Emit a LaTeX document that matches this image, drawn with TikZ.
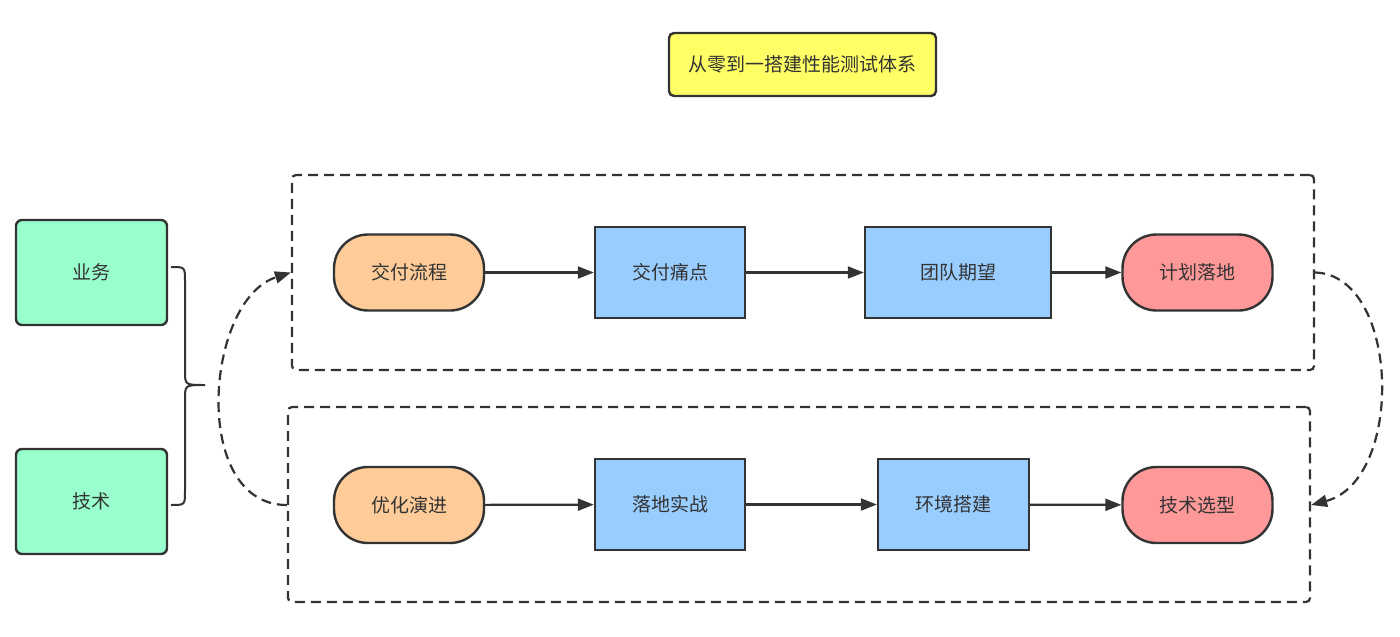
\documentclass[tikz,border=0pt]{standalone}
\usepackage{fontspec}
\setmainfont{Noto Sans CJK SC}
\usetikzlibrary{arrows.meta}
\definecolor{edge}{HTML}{333333}
\definecolor{txt}{HTML}{333333}
\definecolor{cgreen}{HTML}{99FFCC}
\definecolor{cyellow}{HTML}{FFFF66}
\definecolor{corange}{HTML}{FFCC99}
\definecolor{cblue}{HTML}{99CCFF}
\definecolor{cred}{HTML}{FF9999}
\tikzset{
  base/.style={draw=edge, line width=2.4pt, inner sep=0pt, text=txt, font=\fontsize{19}{22}\selectfont},
  pill/.style={base, rounded corners=34pt, minimum width=150pt, minimum height=76pt},
  rectbox/.style={base, minimum height=91pt},
  sidebox/.style={base, fill=cgreen, rounded corners=6pt, minimum width=151pt, minimum height=105pt},
  group/.style={draw=edge, line width=2.2pt, dash pattern=on 10pt off 6pt, rounded corners=4pt, inner sep=0pt},
  flow/.style={draw=edge, line width=2.2pt, -{Triangle[length=16pt,width=12pt]}},
  loop/.style={draw=edge, line width=2.2pt, dash pattern=on 10pt off 6pt, -{Triangle[length=16pt,width=12pt]}},
}
\begin{document}
\begin{tikzpicture}[x=1pt,y=-1pt]
\useasboundingbox[fill=white] (0,0) rectangle (1400,637);
% title
\node[base, fill=cyellow, rounded corners=5pt, minimum width=267pt, minimum height=63pt] (title) at (802.5,64.5) {从零到一搭建性能测试体系};
% side boxes
\node[sidebox] (biz) at (91.5,272.5) {业务};
\node[sidebox] (tech) at (91.5,501.5) {技术};
% brace
\draw[draw=edge, line width=2pt] (171,267) .. controls (185,267) .. (185,281) -- (185,371) .. controls (185,385) .. (205,385)
  .. controls (185,385) .. (185,399) -- (185,491) .. controls (185,505) .. (171,505);
% group boxes
\node[group, minimum width=1022pt, minimum height=195pt] (topgrp) at (803,272.5) {};
\node[group, minimum width=1022pt, minimum height=195pt] (botgrp) at (799,504.5) {};
% top row
\node[pill, fill=corange] (a1) at (409,272.5) {交付流程};
\node[rectbox, fill=cblue, minimum width=150pt] (a2) at (670,272.5) {交付痛点};
\node[rectbox, fill=cblue, minimum width=186pt] (a3) at (958,272.5) {团队期望};
\node[pill, fill=cred] (a4) at (1197.5,272.5) {计划落地};
% bottom row
\node[pill, fill=corange] (b1) at (409,505) {优化演进};
\node[rectbox, fill=cblue, minimum width=150pt] (b2) at (670,504.5) {落地实战};
\node[rectbox, fill=cblue, minimum width=151pt] (b3) at (953.5,504.5) {环境搭建};
\node[pill, fill=cred] (b4) at (1197.5,505) {技术选型};
% flows
\draw[flow] (a1) -- (a2);
\draw[flow] (a2) -- (a3);
\draw[flow] (a3) -- (a4);
\draw[flow] (b1) -- (b2);
\draw[flow] (b2) -- (b3);
\draw[flow] (b3) -- (b4);
% loop curves
\coordinate (tl) at (topgrp.west |- a1.center);
\coordinate (bl) at (botgrp.west |- b1.center);
\coordinate (tr) at (topgrp.east |- a4.center);
\coordinate (br) at (botgrp.east |- b4.center);
\draw[loop] (bl) .. controls (190,505) and (205,300) .. (tl);
\draw[loop] (tr) .. controls (1400,275) and (1405,480) .. (br);
\end{tikzpicture}
\end{document}
